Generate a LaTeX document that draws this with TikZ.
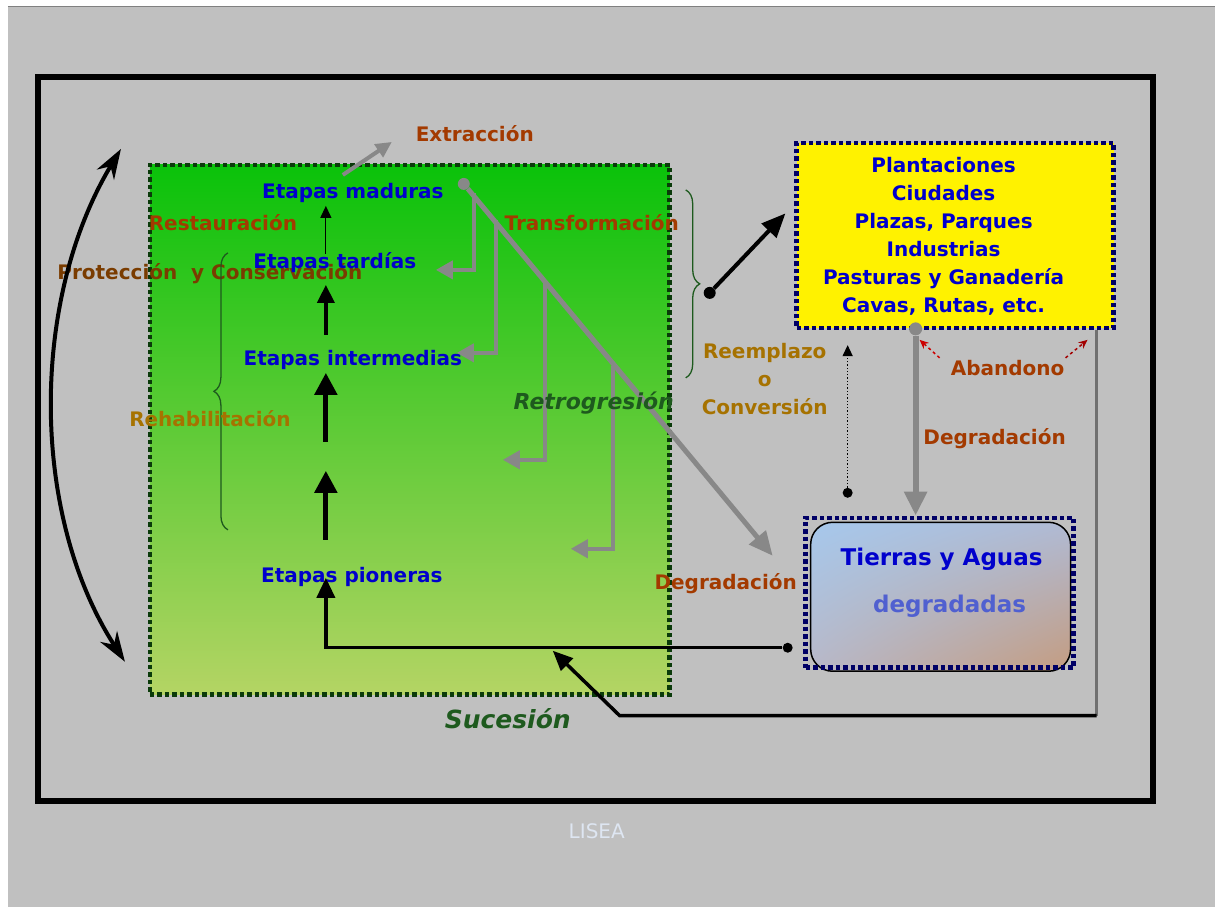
\documentclass[tikz,border=0pt]{standalone}
\usepackage{fontspec}
\setmainfont{DejaVu Sans}
\usetikzlibrary{arrows.meta,shadings,decorations.pathreplacing,positioning}
\definecolor{fondo}{HTML}{C0C0C0}
\definecolor{azul}{HTML}{0000CC}
\definecolor{rojizo}{HTML}{A33A00}
\definecolor{marron}{HTML}{7A3C00}
\definecolor{ocre}{HTML}{A67200}
\definecolor{verdeosc}{HTML}{1E5A1E}
\definecolor{bordeverde}{HTML}{0A3A0A}
\definecolor{gris}{HTML}{888888}
\definecolor{grisosc}{HTML}{707070}
\definecolor{marino}{HTML}{000066}
\definecolor{rojo}{HTML}{CC0000}

\begin{document}
\begin{tikzpicture}[x=1pt, y=-1pt,
    etapa/.style={font=\fontsize{20}{24}\selectfont\bfseries, text=azul},
    rotulo/.style={font=\fontsize{20}{24}\selectfont\bfseries, text=rojizo},
    cursiva/.style={font=\fontsize{22}{24}\selectfont\bfseries\itshape, text=verdeosc},
    punteado/.style={line width=4.5pt, dash pattern=on 4.5pt off 3pt},
    avance/.style={line width=5pt, -{Triangle[length=22pt,width=22pt]}},
    retro/.style={gris, line width=4pt, -{Triangle[length=17pt,width=18pt]}},
    punto/.style={circle, fill, inner sep=0pt, minimum size=10pt},
    llave/.style={decorate, decoration={brace, amplitude=14pt}, line width=1.3pt, verdeosc}]

    % fondo y marco
    \fill[white] (0,0) rectangle (1215,907);
    \fill[fondo] (8,7) rectangle (1215,907);
    \draw[gray, line width=1pt] (8,7) -- (1215,7);
    \draw[line width=6pt] (38,77) rectangle (1153,801);

    % cajas
    \node[punteado, draw=bordeverde, top color={rgb,255:red,10;green,194;blue,10},
          bottom color={rgb,255:red,180;green,212;blue,100},
          minimum width=520pt, minimum height=530pt] (sucesion) at (410,430) {};
    \node[punteado, draw=marino, fill=yellow, minimum width=317pt, minimum height=185pt] (usos) at (955.5,235.5) {};
    \node[draw, line width=1.5pt, rounded corners=22pt, minimum width=260pt, minimum height=149pt,
          upper left={rgb,255:red,166;green,200;blue,236}, upper right={rgb,255:red,176;green,186;blue,212},
          lower left={rgb,255:red,184;green,184;blue,200}, lower right={rgb,255:red,196;green,156;blue,128}] (tierrasint) at (941,597) {};
    \node[punteado, draw=marino, minimum width=268pt, minimum height=150pt] (tierras) at (940,593) {};

    % textos de etapas
    \node[etapa] (madura) at (353,193) {Etapas maduras};
    \node[font=\fontsize{20}{24}\selectfont\bfseries, text=marron] (proteccion) at (210,274) {Protección\ \ y Conservación};
    \node[etapa] (tardia) at (335,263) {Etapas tardías};
    \node[etapa] (intermedia) at (353,360) {Etapas intermedias};
    \node[etapa] (pionera) at (352,577) {Etapas pioneras};

    % puntos
    \node[punto, gris, minimum size=12pt] (pmadura) at (464,184) {};
    \node[punto, minimum size=12pt] (pllave) at (710,293) {};
    \node[punto] (ptierras) at (788,648) {};
    \node[punto] (pconv) at (848,493) {};
    \node[punto, gris, minimum size=13pt] (pusos) at (916,329) {};
    \coordinate (eje) at (326,0);
    \coordinate (extr) at (392,142);
    \coordinate (diag) at (773,556);
    \coordinate (esq) at (1097,716);
    \coordinate (codo) at (620,716);
    \coordinate (retorno) at (553,651);

    % sucesion
    \draw[line width=3.5pt, -{Triangle[length=20pt,width=18pt]}] (ptierras) -- (ptierras -| eje) -- (326,578);
    \draw[avance] (326,540) -- (326,471);
    \draw[avance] (326,442) -- (326,373);
    \draw[line width=3.5pt, -{Triangle[length=18pt,width=17pt]}] (326,335) -- (326,285);
    \draw[line width=1.2pt, -{Triangle[length=12pt,width=11pt]}] (326,254) -- (326,206);

    % retrogresion
    \draw[gris, line width=4pt, -{Triangle[length=16pt,width=15pt]}] (343,175) -- (extr);
    \draw[gris, line width=5pt, -{Triangle[length=24pt,width=21pt]}] (pmadura) -- (diag);
    \draw[retro] (474,193) -- (474,270) -- (436,270);
    \draw[retro] (496,220) -- (496,353) -- (457,353);
    \draw[retro] (545,283) -- (545,460) -- (503,460);
    \draw[retro] (613,366) -- (613,549) -- (571,549);

    % llaves
    \draw[llave] (228,530) -- (228,253);
    \draw[llave] (686,190) -- (686,378);
    \draw[line width=4pt, -{Triangle[length=24pt,width=20pt]}] (pllave) -- ([xshift=-9pt,yshift=22pt]usos.west);

    % proteccion y conservacion
    \draw[line width=4pt, {Stealth[length=30pt,width=20pt]}-{Stealth[length=30pt,width=20pt]}]
        (121,149) .. controls (30,300) and (30,515) .. (125,662);

    % usos del suelo
    \draw[dotted, line width=1.3pt, -{Triangle[length=11pt,width=10pt]}] (pconv) -- ([yshift=-15pt]pconv |- usos.south);
    \draw[gris, line width=6pt, -{Triangle[length=24pt,width=22pt]}] (pusos) -- (pusos |- tierras.north);
    \draw[rojo, dashed, line width=1.5pt, -{Stealth[length=9pt,width=8pt]}] (940,358) -- (920,340);
    \draw[rojo!80!black, dashed, line width=1.5pt, -{Stealth[length=9pt,width=8pt]}] (1066,358) -- (1088,340);
    \draw[grisosc, line width=3pt] (1097,330) -- (esq);
    \draw[line width=3.5pt, -{Triangle[length=20pt,width=17pt]}] (esq) -- (codo) -- (retorno);

    % rotulos
    \node[rotulo] (extraccion) at (475,134) {Extracción};
    \node[rotulo] (restauracion) at (223,223) {Restauración};
    \node[rotulo] (transformacion) at (592,223) {Transformación};
    \node[font=\fontsize{20}{24}\selectfont\bfseries, text=ocre] (rehabilitacion) at (210,419) {Rehabilitación};
    \node[cursiva] (retrogresion) at (594,403) {Retrogresión};
    \node[cursiva, font=\fontsize{25}{28}\selectfont\bfseries\itshape] (suc) at (508,719) {Sucesión};
    \node[font=\fontsize{20}{28}\selectfont\bfseries, text=ocre, align=center] (reemplazo) at (765,379) {Reemplazo\\o\\Conversión};
    \node[rotulo] (abandono) at (1008,368) {Abandono};
    \node[rotulo] (degrad1) at (995,439) {Degradación};
    \node[rotulo] (degrad2) at (726,584) {Degradación};
    \node[etapa, align=center, font=\fontsize{20}{28}\selectfont\bfseries] (usostexto) at (944,236)
        {Plantaciones\\Ciudades\\Plazas, Parques\\Industrias\\Pasturas y Ganadería\\Cavas, Rutas, etc.};
    \node[etapa, font=\fontsize{23}{26}\selectfont\bfseries] (tierrasaguas) at (942,559) {Tierras y Aguas};
    \node[font=\fontsize{23}{26}\selectfont\bfseries, text={rgb,255:red,80;green,96;blue,208}] (degradadas) at (950,606) {degradadas};
    \node[font=\fontsize{20}{24}\selectfont, text={rgb,255:red,222;green,230;blue,242}] (lisea) at (597,832) {LISEA};
\end{tikzpicture}
\end{document}
